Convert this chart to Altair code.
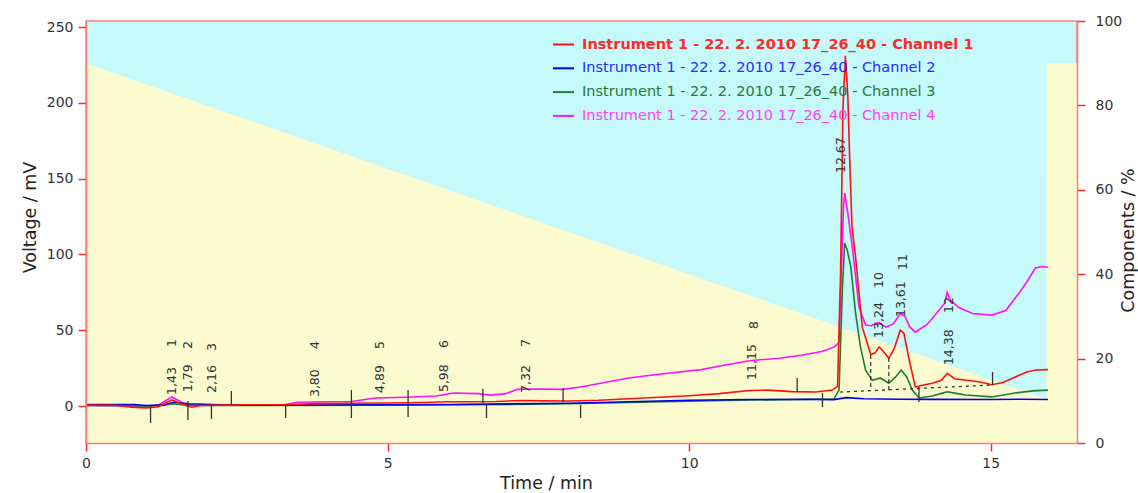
import altair as alt
import pandas as pd

# ---------------- data ----------------
series_names = [
    "Instrument 1 - 22. 2. 2010 17_26_40 -  Channel 1",
    "Instrument 1 - 22. 2. 2010 17_26_40 -  Channel 2",
    "Instrument 1 - 22. 2. 2010 17_26_40 -  Channel 3",
    "Instrument 1 - 22. 2. 2010 17_26_40 -  Channel 4",
]
series_colors = ["#ff1010", "#0000f0", "#1f7f2a", "#ff10ff"]
legend_text_colors = ["#ff2a2a", "#2b2bff", "#2a7a3a", "#ff40ff"]

# Channel 1 (red)
ch1_t = [0.0, 0.5, 0.75, 1.0, 1.2, 1.32, 1.42, 1.52, 1.65, 1.75, 1.9, 2.2, 2.6, 3.0, 3.4,
         3.8, 4.4, 5.0, 5.6, 6.0, 6.4, 6.8, 7.2, 7.6, 8.0, 8.5, 9.0, 9.5, 10.0, 10.5,
         11.0, 11.3, 11.7, 12.1, 12.37, 12.46, 12.51, 12.55, 12.59, 12.63, 12.66, 12.70,
         12.76, 12.87, 13.01, 13.08, 13.15, 13.22, 13.31, 13.40, 13.50, 13.56, 13.65,
         13.75, 13.85, 14.03, 14.18, 14.28, 14.40, 14.6, 14.8, 15.02, 15.2, 15.4, 15.6,
         15.75, 15.95]
ch1_v = [0.7, 0.5, -0.8, -1.2, -0.5, 2.0, 4.0, 2.5, 0.3, -0.8, 0.3, 0.6, 0.8, 0.8, 1.0,
         1.6, 1.8, 2.0, 2.3, 2.8, 2.8, 3.0, 3.6, 3.4, 3.3, 3.8, 4.8, 5.8, 6.8, 8.2,
         10.2, 10.5, 9.5, 9.2, 10.5, 13.0, 87.0, 197.0, 231.0, 205.0, 165.0, 118.0,
         98.0, 52.0, 34.0, 35.0, 39.0, 36.0, 31.5, 38.0, 50.0, 48.0, 30.0,
         12.5, 13.5, 15.0, 17.0, 21.5, 18.0, 17.0, 16.0, 14.0, 15.5, 19.0, 22.5,
         23.8, 24.0]

# Channel 2 (blue)
ch2_t = [0.0, 0.8, 1.0, 1.3, 1.45, 1.7, 2.5, 4.0, 6.0, 8.0, 9.0, 10.0, 11.0, 12.0, 12.4,
         12.6, 12.9, 13.5, 14.0, 15.0, 15.5, 15.95]
ch2_v = [1.0, 1.0, 0.3, 0.8, 2.5, 1.5, 0.5, 0.7, 1.0, 1.8, 2.8, 3.8, 4.3, 4.4, 4.2,
         5.5, 4.8, 4.5, 4.4, 4.3, 4.5, 4.3]

# Channel 3 (green)
ch3_t = [0.0, 1.0, 1.3, 1.43, 1.6, 1.8, 3.0, 5.0, 7.0, 8.0, 9.0, 10.0, 11.0, 11.8, 12.4,
         12.485, 12.54, 12.578, 12.62, 12.68, 12.76, 12.84, 12.925, 13.035, 13.17,
         13.31, 13.42, 13.515, 13.61, 13.70, 13.81, 14.03, 14.2, 14.28, 14.4, 14.58,
         15.02, 15.4, 15.7, 15.95]
ch3_v = [0.3, 0.0, 0.5, 1.5, 0.8, 0.3, 0.3, 0.6, 1.0, 1.5, 2.3, 3.2, 4.0, 4.3, 4.6,
         10.5, 76.5, 107.5, 103.0, 92.0, 61.0, 39.0, 23.7, 17.0, 18.5,
         15.0, 19.0, 23.7, 19.0, 10.5, 5.3, 6.6, 8.5, 9.4, 8.5, 7.3,
         6.0, 8.6, 10.0, 10.5]

# Channel 4 (magenta)
ch4_t = [0.0, 0.8, 1.0, 1.2, 1.32, 1.42, 1.52, 1.65, 1.8, 2.2, 2.8, 3.3, 3.5, 4.0, 4.4,
         4.8, 5.3, 5.8, 6.1, 6.5, 6.7, 6.95, 7.15, 7.5, 7.9, 8.2, 8.6, 9.0, 9.5, 10.2,
         10.6, 11.03, 11.5, 11.86, 12.2, 12.41, 12.485, 12.54, 12.56, 12.58, 12.62,
         12.705, 12.815, 12.925, 13.02, 13.09, 13.15, 13.256, 13.38, 13.504, 13.58,
         13.66, 13.752, 13.95, 14.139, 14.24, 14.277, 14.33, 14.47, 14.7, 15.02, 15.25,
         15.46, 15.6, 15.74, 15.85, 15.95]
ch4_v = [0.3, 0.0, -0.3, 0.5, 3.5, 6.0, 4.0, 1.0, 0.5, 0.5, 0.6, 1.0, 2.5, 2.8, 3.0,
         5.3, 5.8, 6.6, 8.6, 8.2, 7.2, 8.0, 11.0, 11.2, 11.0, 12.5, 15.5, 18.5, 21.0, 24.0,
         27.0, 30.0, 31.5, 33.5, 36.0, 39.0, 42.0, 109.0, 132.0, 140.5, 130.0,
         105.0, 65.5, 53.4, 53.0, 54.6, 55.0, 52.0, 54.0, 61.0, 59.0,
         52.0, 48.7, 54.0, 63.0, 68.0, 75.0, 70.0, 65.0, 61.0, 60.0, 63.0,
         74.0, 82.0, 91.0, 92.0, 91.5]

# gradient (Components / %)
grad_t = [0.0, 15.92, 15.925, 16.43]
grad_pct = [90.0, 10.4, 90.0, 90.0]

# peak labels
rt_text = ["1,43", "1,79", "2,16", "3,80", "4,89", "5,98", "7,32", "11,15", "12,67",
           "13,24", "13,61", "14,38"]
rt_x = [1.42, 1.69, 2.09, 3.79, 4.87, 5.94, 7.30, 11.04, 12.52, 13.15, 13.51, 14.30]
rt_y = [7.3, 9.2, 8.6, 5.9, 8.6, 9.2, 8.6, 17.2, 153.7, 44.9, 58.7, 27.0]
num_text = ["1", "2", "3", "4", "5", "6", "7", "8", "10", "11", "12"]
num_x = [1.42, 1.69, 2.09, 3.79, 4.87, 5.94, 7.30, 11.08, 13.15, 13.54, 14.30]
num_y = [41.6, 40.2, 38.9, 40.2, 40.2, 40.9, 41.6, 53.4, 83.1, 95.0, 66.6]

# integration markers
mk_t = [1.07, 1.69, 2.08, 2.41, 3.31, 4.40, 5.34, 6.58, 6.64, 7.91, 8.20, 11.79, 12.21,
        13.81, 15.03]
mk_top = [0.0, 3.3, 0.7, 9.9, 0.0, 10.6, 10.6, 11.2, 1.3, 11.9, 0.7, 18.5, 8.6, 12.5, 22.4]
mk_bot = [-11.2, -9.2, -8.6, 1.3, -7.9, -7.9, -7.3, 2.0, -7.9, 2.6, -7.9, 9.2, -0.7, 2.6,
          13.9]
dash_t = [13.01, 13.31]
dash_top = [33.6, 31.7]
dash_bot = [10.6, 10.6]
base_t = [12.50, 15.05]
base_v = [9.2, 13.9]

x_ticks = [0, 5, 10, 15]
y_ticks = [0, 50, 100, 150, 200, 250]
pct_ticks = [0, 20, 40, 60, 80, 100]

# ---------------- tables ----------------
frames = []
for name, tt, vv in [(series_names[3], ch4_t, ch4_v), (series_names[2], ch3_t, ch3_v),
                     (series_names[1], ch2_t, ch2_v), (series_names[0], ch1_t, ch1_v)]:
    frames.append(pd.DataFrame({"t": tt, "v": vv, "series": name}))
lines_df = pd.concat(frames, ignore_index=True)

grad_df = pd.DataFrame({"t": grad_t, "pct": grad_pct})
rt_df = pd.DataFrame({"t": rt_x, "v": rt_y, "label": rt_text})
num_df = pd.DataFrame({"t": num_x, "v": num_y, "label": num_text})
mk_df = pd.DataFrame({"t": mk_t, "v": mk_top, "v2": mk_bot})
dash_df = pd.DataFrame({"t": dash_t, "v": dash_top, "v2": dash_bot})
base_df = pd.DataFrame({"t": base_t, "v": base_v})

FONT = "DejaVu Sans"

xenc = alt.X(
    "t:Q",
    scale=alt.Scale(domain=[0, 16.43], nice=False, zero=False),
    axis=alt.Axis(values=x_ticks, title="Time / min", labelPadding=5,
                  titleX=460, titleY=40, titleAlign="center", titleBaseline="middle",
                  zindex=1),
)
yenc = alt.Y(
    "v:Q",
    scale=alt.Scale(domain=[-24.4, 254.0], nice=False, zero=False),
    axis=alt.Axis(values=y_ticks, title="Voltage / mV", orient="left", labelPadding=5,
                  titleX=-56, titleY=196, titleAngle=270, titleAlign="center",
                  titleBaseline="middle", zindex=1),
)

area = alt.Chart(grad_df).mark_area(color="#fcfbcf", opacity=1).encode(
    x=xenc,
    y=alt.Y("pct:Q", stack=None, scale=alt.Scale(domain=[0, 100], nice=False),
            axis=alt.Axis(values=pct_ticks, title="Components / %", orient="right",
                          labelPadding=10, titleX=51, titleY=219, titleAngle=270,
                          titleAlign="center", titleBaseline="middle", zindex=1)),
)

color_expr = "[" + ",".join("'%s'" % c for c in legend_text_colors) + "][datum.index]"

lines = alt.Chart(lines_df).mark_line(strokeWidth=1.6).encode(
    x=xenc,
    y=yenc,
    color=alt.Color(
        "series:N",
        scale=alt.Scale(domain=series_names, range=series_colors),
        legend=alt.Legend(orient="none", legendX=466, legendY=12, title=None,
                          symbolType="stroke", symbolSize=441, symbolStrokeWidth=2,
                          labelFont=FONT, labelFontSize=14.5, labelLimit=0,
                          labelOffset=7, rowPadding=5.8, padding=0,
                          labelColor=alt.ExprRef(color_expr),
                          labelFontWeight=alt.ExprRef("datum.index == 0 ? 'bold' : 'normal'")),
    ),
    detail="series:N",
)

marks = alt.Chart(mk_df).mark_rule(color="#333333", strokeWidth=1.3).encode(
    x=xenc, y=yenc, y2="v2:Q")
dashes = alt.Chart(dash_df).mark_rule(color="#333333", strokeWidth=1.2,
                                      strokeDash=[4, 3]).encode(x=xenc, y=yenc, y2="v2:Q")
baseline = alt.Chart(base_df).mark_line(color="#333333", strokeWidth=1.3,
                                        strokeDash=[3, 4]).encode(x=xenc, y=yenc)

rt_labels = alt.Chart(rt_df).mark_text(angle=270, align="left", baseline="middle",
                                       font=FONT, fontSize=12.5, color="#333333").encode(
    x=xenc, y=yenc, text="label:N")
num_labels = alt.Chart(num_df).mark_text(angle=270, align="center", baseline="middle",
                                         font=FONT, fontSize=12.5, color="#333333").encode(
    x=xenc, y=yenc, text="label:N")

inner = alt.layer(lines, marks, dashes, baseline, rt_labels, num_labels)

chart = alt.layer(area, inner).resolve_scale(y="independent").properties(
    width=991, height=422,
    padding={"left": 86, "top": 21, "right": 61, "bottom": 50},
    autosize=alt.AutoSizeParams(type="none"),
).configure_view(
    fill="#c6f9f9", stroke="#ff8080", strokeWidth=1.5,
).configure_axis(
    domainColor="#ff7a7a", domainWidth=1.5, tickColor="#ff2a2a", tickWidth=1.5,
    tickSize=8, labelFont=FONT, labelFontSize=14, labelColor="#333333",
    titleFont=FONT, titleFontSize=17.5, titleFontWeight="normal", titleColor="#222222",
    grid=False, labelFlush=False,
)

chart.save("out.html", embed_options={"renderer": "svg", "actions": False})
